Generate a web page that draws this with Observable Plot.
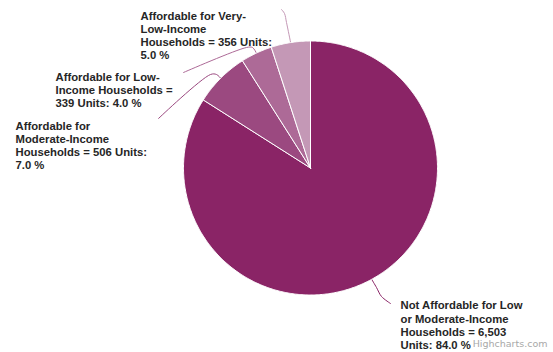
<!DOCTYPE html>
<html><head><meta charset="utf-8">
<script src="https://cdn.jsdelivr.net/npm/d3@7"></script>
<script src="https://cdn.jsdelivr.net/npm/@observablehq/plot@0.6"></script>
<style>
body{margin:0;background:#fff;}
#chart{width:553px;height:352px;}
</style>
</head><body><div id="chart"></div>
<script>
// ---- data ----
const categories = [
  "Not Affordable for Low or Moderate-Income Households",
  "Affordable for Moderate-Income Households",
  "Affordable for Low-Income Households",
  "Affordable for Very-Low-Income Households"
];
const units = [6503, 506, 339, 356];
const percents = [84.0, 7.0, 4.0, 5.0];
const colors = ["#8a2466", "#9b4980", "#ad6a97", "#c498b6"];
const labelLines = [
  ["Not Affordable for Low", "or Moderate-Income", "Households = 6,503", "Units: 84.0 %"],
  ["Affordable for", "Moderate-Income", "Households = 506 Units:", "7.0 %"],
  ["Affordable for Low-", "Income Households =", "339 Units: 4.0 %"],
  ["Affordable for Very-", "Low-Income", "Households = 356 Units:", "5.0 %"]
];
const credit = "Highcharts.com";

// ---- layout (pixels) ----
const W = 553, H = 352, cx = 310, cy = 167.5, R = 127;
const fs = 11.3;
const labelPos = [[400, 307.5], [15, 128], [55, 79], [140, 18]]; // first-line baseline
const labelLH = [13.2, 13, 13, 13.2];
const connectorBends = [
  [[376, 287], [381, 296], [390, 303]],
  [[216, 74], [210, 74], [158, 118]],
  [[252, 47], [246, 47], [183, 72]],
  [[286, 22], [284, 13], [281, 9]]
];
const ux = px => (px - cx) / R;
const uy = py => (cy - py) / R;

// ---- pie geometry from data ----
const arcs = d3.pie().sort(null).value(d => d.pct)(
  categories.map((c, i) => ({cat: c, units: units[i], pct: percents[i]}))
);
const slicePts = [];
arcs.forEach((a) => {
  const cat = a.data.cat;
  slicePts.push({cat, x: 0, y: 0});
  const n = Math.max(4, Math.ceil((a.endAngle - a.startAngle) / 0.01));
  for (let k = 0; k <= n; k++) {
    const t = a.startAngle + (a.endAngle - a.startAngle) * k / n;
    slicePts.push({cat, x: Math.sin(t), y: Math.cos(t)});
  }
  slicePts.push({cat, x: 0, y: 0});
});

const connPts = [];
arcs.forEach((a, i) => {
  const m = (a.startAngle + a.endAngle) / 2;
  const cat = a.data.cat;
  connPts.push({cat, x: Math.sin(m), y: Math.cos(m)});
  connectorBends[i].forEach(([px, py]) => connPts.push({cat, x: ux(px), y: uy(py)}));
});

const textMarks = categories.map((c, i) => Plot.text([{
    x: ux(labelPos[i][0]),
    y: uy(labelPos[i][1] - 0.71 * fs),
    text: labelLines[i].join("\n")
  }], {
    x: "x", y: "y", text: "text",
    textAnchor: "start", lineAnchor: "top", lineHeight: labelLH[i] / fs,
    fill: "#262626", fontWeight: "bold", fontSize: fs,
    fontFamily: "'Liberation Sans', Arial, sans-serif"
  }));

const chart = Plot.plot({
  width: W, height: H,
  margin: 0,
  x: {domain: [-1, 1], range: [cx - R, cx + R], axis: null},
  y: {domain: [-1, 1], range: [cy + R, cy - R], axis: null},
  color: {domain: categories, range: colors},
  style: {background: "#fff", overflow: "visible"},
  marks: [
    Plot.line(connPts, {x: "x", y: "y", z: "cat", stroke: "cat", strokeWidth: 1, curve: "catmull-rom"}),
    Plot.line(slicePts, {x: "x", y: "y", z: "cat", fill: "cat", stroke: "#fff", strokeWidth: 1, strokeLinejoin: "round"}),
    ...textMarks,
    Plot.text([credit], {
      x: ux(547), y: uy(346.5 - 0.71 * 9.5),
      text: d => d, textAnchor: "end", lineAnchor: "top",
      fill: "#a8a8a8", fontSize: 9.5, fontFamily: "'DejaVu Sans', sans-serif"
    })
  ]
});
document.getElementById("chart").appendChild(chart);
</script>
</body></html>
